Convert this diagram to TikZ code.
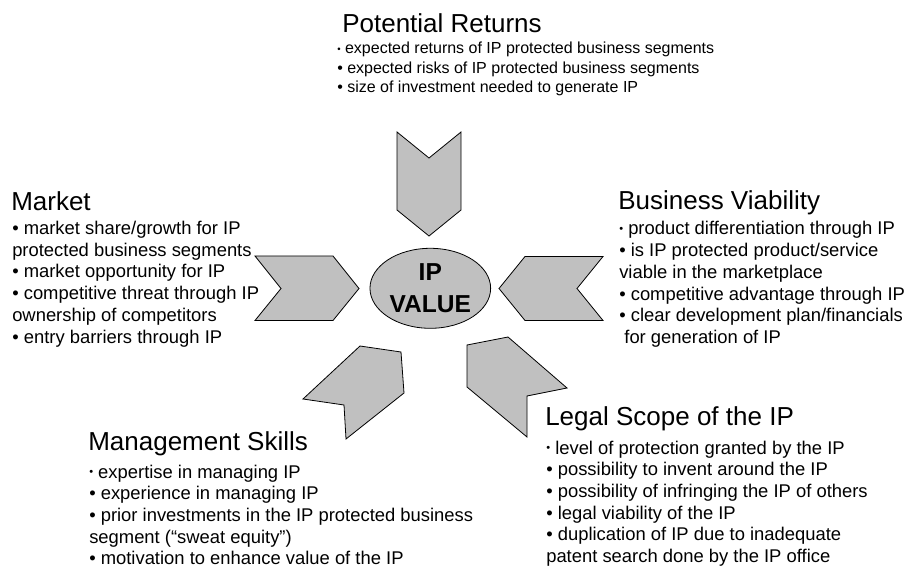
\documentclass[tikz,border=0pt]{standalone}
\usepackage{fontspec}
\setmainfont{Liberation Sans}
\usetikzlibrary{shapes.geometric}

\definecolor{chevgray}{RGB}{192,192,192}
\newcommand{\firstdot}{\raisebox{0.12em}{\scalebox{0.6}{\textbullet}}}
\newcommand{\pointlist}[1]{\begin{tabular}[t]{@{}l@{}}#1\end{tabular}}

\begin{document}
\begin{tikzpicture}[x=0.75pt,y=-0.75pt,
	heading/.style={anchor=base west, inner sep=0pt, font=\fontsize{19.5}{23}\selectfont},
	points/.style={anchor=base west, inner sep=0pt, font=\fontsize{13.8}{16.3}\selectfont},
	smallpoints/.style={points, font=\fontsize{12}{14.3}\selectfont},
	chevron/.style={draw=black, line width=0.6pt, fill=chevgray, line join=miter},
	hub/.style={ellipse, draw=black, line width=0.6pt, fill=chevgray, inner sep=0pt,
		minimum width=90.5pt, minimum height=60pt, align=center,
		font=\fontsize{18.4}{23.5}\selectfont\bfseries}]
	
	\useasboundingbox (0,0) rectangle (909,573);
	
	% chevrons pointing at the centre
	\draw[chevron] (397,132) -- (429,158) -- (461,132) -- (461,210) -- (429,236) -- (397,210) -- cycle;
	\draw[chevron] (255,256) -- (333,256) -- (359,288.5) -- (333,320.5) -- (255,320.5) -- (281,288.5) -- cycle;
	\draw[chevron] (603,256.5) -- (525,256.5) -- (499,288.5) -- (525,320.5) -- (603,320.5) -- (577,288.5) -- cycle;
	\draw[chevron] (401,352) -- (404,393) -- (346,439) -- (344,405) -- (303,399) -- (360,346) -- cycle;
	\draw[chevron] (467,345) -- (508,337) -- (567,388) -- (527,396) -- (527,437) -- (467,387) -- cycle;
	
	\node[hub] (ipvalue) at (430.3,288.3) {IP\\VALUE};
	
	% potential returns
	\node[heading] (returns) at (342,33) {Potential Returns};
	\node[smallpoints] (returnslist) at (337,54) {\pointlist{%
		\firstdot{} expected returns of IP protected business segments\\
		\textbullet{} expected risks of IP protected business segments\\
		\textbullet{} size of investment needed to generate IP}};
	
	% market
	\node[heading] (market) at (11,211) {Market};
	\node[points] (marketlist) at (12,234.5) {\pointlist{%
		\textbullet{} market share/growth for IP\\
		protected business segments\\
		\textbullet{} market opportunity for IP\\
		\textbullet{} competitive threat through IP\\
		ownership of competitors\\
		\textbullet{} entry barriers through IP}};
	
	% business viability
	\node[heading] (viability) at (618,210) {Business Viability};
	\node[points] (viabilitylist) at (619,235) {\pointlist{%
		\firstdot{} product differentiation through IP\\
		\textbullet{} is IP protected product/service\\
		viable in the marketplace\\
		\textbullet{} competitive advantage through IP\\
		\textbullet{} clear development plan/financials\\
		\ for generation of IP}};
	
	% management skills
	\node[heading] (management) at (88,450) {Management Skills};
	\node[points] (managementlist) at (89,478) {\pointlist{%
		\firstdot{} expertise in managing IP\\
		\textbullet{} experience in managing IP\\
		\textbullet{} prior investments in the IP protected business\\
		segment (“sweat equity”)\\
		\textbullet{} motivation to enhance value of the IP}};
	
	% legal scope
	\node[heading] (legal) at (545,425) {Legal Scope of the IP};
	\node[points] (legallist) at (546,454) {\pointlist{%
		\firstdot{} level of protection granted by the IP\\
		\textbullet{} possibility to invent around the IP\\
		\textbullet{} possibility of infringing the IP of others\\
		\textbullet{} legal viability of the IP\\
		\textbullet{} duplication of IP due to inadequate\\
		patent search done by the IP office}};
	
\end{tikzpicture}
\end{document}
